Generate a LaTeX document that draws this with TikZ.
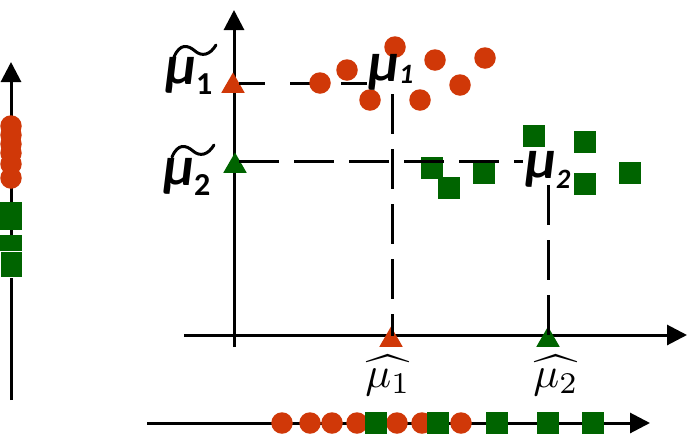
\documentclass[tikz,border=0pt]{standalone}
\usepackage{fontspec}
\newfontfamily\carl{Carlito}
\usetikzlibrary{arrows.meta,shapes.geometric}
\definecolor{dotred}{RGB}{208,56,8}
\definecolor{sqgreen}{RGB}{0,100,0}
\tikzset{
  axisline/.style={line width=3pt,-{Triangle[length=20pt,width=20pt]}},
  reddot/.style={circle,fill=dotred,minimum size=21.5pt,inner sep=0pt,outer sep=0pt},
  greensq/.style={rectangle,fill=sqgreen,minimum size=22pt,inner sep=0pt,outer sep=0pt},
  tri/.style={regular polygon,regular polygon sides=3,minimum size=27pt,inner sep=0pt,outer sep=0pt},
  guide/.style={line width=3pt,dash pattern=on 40pt off 15pt},
  guideshort/.style={line width=3pt,dash pattern=on 26pt off 25pt},
  tildeacc/.style={line width=3pt,line cap=round},
  boldmu/.style={inner sep=0pt,font=\carl\bfseries\itshape\fontsize{56}{56}\selectfont},
  hatlab/.style={inner sep=0pt},
}
\begin{document}
\begin{tikzpicture}[x=1pt,y=-1pt]
\useasboundingbox (0,0) rectangle (688,437);
% axes
\coordinate (yb) at (234,347); \coordinate (yt) at (234,10);
\coordinate (xl) at (184,335); \coordinate (xr) at (687,335);
\coordinate (lb) at (11,400);  \coordinate (lt) at (11,62);
\coordinate (bl) at (147,423); \coordinate (br) at (650,423);
\draw[axisline] (yb) -- (yt);
\draw[axisline] (xl) -- (xr);
\draw[axisline] (lb) -- (lt);
\draw[axisline] (bl) -- (br);
% triangles
\node[tri,fill=dotred] (t1) at (233,86) {};
\node[tri,fill=sqgreen] (t2) at (235,166) {};
\node[tri,fill=dotred] (t3) at (391,340) {};
\node[tri,fill=sqgreen] (t4) at (548,340) {};
% red guides
\coordinate (rh0) at (239,83); \coordinate (rh1) at (370,83);
\coordinate (rv0) at (392,94); \coordinate (rv1) at (392,336);
\draw[guideshort] (rh0) -- (rh1);
\draw[guide] (rv0) -- (rv1);
% red dots main
\foreach \n/\x/\y in {a/320/83,b/347/70,c/395/47,d/370/100,e/420/100,f/435/60,g/460/85,h/485/58}
  \node[reddot] (r\n) at (\x,\y) {};
% green squares main
\foreach \n/\x/\y in {a/432/168,b/449/188,c/484/173,d/534/136,e/585/142,f/585/184,g/630/173}
  \node[greensq] (g\n) at (\x,\y) {};
% green guides
\coordinate (gh0) at (239,161); \coordinate (gh1) at (523,161);
\coordinate (gv0) at (548,185); \coordinate (gv1) at (548,336);
\draw[guide] (gh0) -- (gh1);
\draw[guide] (gv0) -- (gv1);
% left axis projections
\foreach \n/\y in {a/126,b/135,c/144,d/153,e/164,f/178}
  \node[reddot] (lr\n) at (11,\y) {};
\node[greensq,minimum height=28pt] (lga) at (11,216) {};
\node[greensq,minimum height=16pt] (lgb) at (11,243) {};
\node[greensq,minimum height=26pt,draw=white,line width=1pt] (lgc) at (11,264) {};
% bottom axis projections
\foreach \n/\x in {a/282,b/310,c/332,d/357,e/397,f/422,g/461}
  \node[reddot] (br\n) at (\x,423) {};
\foreach \n/\x in {a/376,b/438,c/497,d/548,e/593}
  \node[greensq] (bg\n) at (\x,423) {};
% tilde labels
\node[boldmu,anchor=base west] (mt1) at (165,84) {μ\raisebox{-10pt}{\fontsize{32}{32}\selectfont\upshape 1}};
\draw[tildeacc] (174,57) .. controls (180,43) and (188,45) .. (195,51) .. controls (202,57) and (210,55) .. (216,45);
\node[boldmu,anchor=base west] (mt2) at (163,185) {μ\raisebox{-10pt}{\fontsize{32}{32}\selectfont\upshape 2}};
\draw[tildeacc] (172,157) .. controls (178,143) and (186,145) .. (193,151) .. controls (200,157) and (208,155) .. (214,145);
% inner labels
\node[boldmu,anchor=base west] (m1) at (368,81) {μ\raisebox{-2pt}{\fontsize{28}{28}\selectfont 1}};
\node[boldmu,anchor=base west] (m2) at (525,178) {μ\raisebox{-10pt}{\fontsize{28}{28}\selectfont 2}};
% hat labels
\node[hatlab,anchor=base] (h1) at (388,387) {\scalebox{4.3}{$\widehat{\mu_1}$}};
\node[hatlab,anchor=base] (h2) at (556,387) {\scalebox{4.3}{$\widehat{\mu_2}$}};
\end{tikzpicture}
\end{document}
